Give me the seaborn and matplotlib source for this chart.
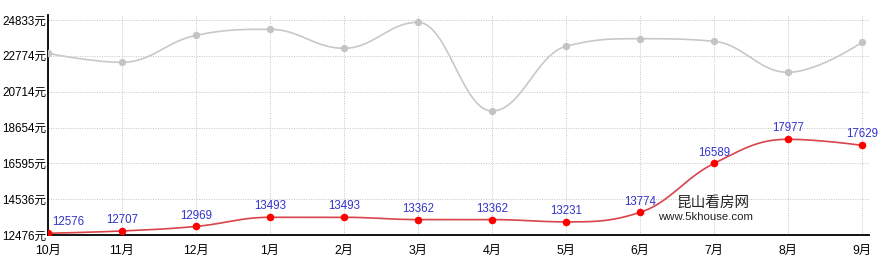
import numpy as np
import pandas as pd
import matplotlib
matplotlib.use("Agg")
import matplotlib.pyplot as plt
import seaborn as sns

months = ["10月", "11月", "12月", "1月", "2月", "3月", "4月", "5月", "6月", "7月", "8月", "9月"]
area_price = [22918, 22400, 23953, 24298, 23206, 24700, 19600, 23321, 23758, 23608, 21826, 23550]
city_price = [12576, 12707, 12969, 13493, 13493, 13362, 13362, 13231, 13774, 16589, 17977, 17629]
y_ticks = [12476, 14536, 16595, 18654, 20714, 22774, 24833]


def spline(xs, ys, n=30, smoothing=1.5):
    """Highcharts-style spline through the given points (rendering only)."""
    xs = np.asarray(xs, float)
    ys = np.asarray(ys, float)
    m = len(xs)
    lc = [(xs[i], ys[i]) for i in range(m)]
    rc = [(xs[i], ys[i]) for i in range(m)]
    d = smoothing + 1
    for i in range(1, m - 1):
        px, py = xs[i], ys[i]
        lx, ly = xs[i - 1], ys[i - 1]
        nx, ny = xs[i + 1], ys[i + 1]
        lcx = (smoothing * px + lx) / d
        lcy = (smoothing * py + ly) / d
        rcx = (smoothing * px + nx) / d
        rcy = (smoothing * py + ny) / d
        corr = ((rcy - lcy) * (rcx - px)) / (rcx - lcx) + py - rcy
        lcy += corr
        rcy += corr
        if lcy > ly and lcy > py:
            lcy = max(ly, py); rcy = 2 * py - lcy
        elif lcy < ly and lcy < py:
            lcy = min(ly, py); rcy = 2 * py - lcy
        if rcy > ny and rcy > py:
            rcy = max(ny, py); lcy = 2 * py - rcy
        elif rcy < ny and rcy < py:
            rcy = min(ny, py); lcy = 2 * py - rcy
        lc[i] = (lcx, lcy)
        rc[i] = (rcx, rcy)
    outx, outy = [], []
    t = np.linspace(0, 1, n)
    for i in range(m - 1):
        p0 = np.array([xs[i], ys[i]])
        p1 = np.array(rc[i])
        p2 = np.array(lc[i + 1])
        p3 = np.array([xs[i + 1], ys[i + 1]])
        b = ((1 - t) ** 3)[:, None] * p0 + (3 * (1 - t) ** 2 * t)[:, None] * p1 \
            + (3 * (1 - t) * t ** 2)[:, None] * p2 + (t ** 3)[:, None] * p3
        outx.extend(b[:, 0]); outy.extend(b[:, 1])
    return np.array(outx), np.array(outy)


sns.set_theme(style="white")
plt.rcParams["font.family"] = ["Liberation Sans", "Noto Sans CJK SC", "DejaVu Sans"]

fig = plt.figure(figsize=(8.92, 2.70), dpi=100)
ax = fig.add_axes([48 / 892, 35 / 270, 821 / 892, 220 / 270])

xi = np.arange(len(months))
df = pd.DataFrame({"x": xi, "area": area_price, "city": city_price})

gx, gy = spline(xi, area_price)
rx, ry = spline(xi, city_price)
sns.lineplot(x=gx, y=gy, ax=ax, color="#c8c8c8", linewidth=1.2, sort=False, zorder=3)
sns.lineplot(x=rx, y=ry, ax=ax, color="#d9434a", linewidth=1.2, sort=False, zorder=4)
sns.scatterplot(data=df, x="x", y="area", ax=ax, color="#c4c4c4", s=28, linewidth=0, zorder=5)
sns.scatterplot(data=df, x="x", y="city", ax=ax, color="#ff0000", s=30, linewidth=0, zorder=6)

for i, v in enumerate(city_price):
    if i == 0:
        ax.annotate(str(v), (i, v), xytext=(3, 3.5), textcoords="offset points",
                    ha="left", va="bottom", fontsize=8.3, color="#3333cc", zorder=7)
    else:
        ax.annotate(str(v), (i, v), xytext=(0, 3.5), textcoords="offset points",
                    ha="center", va="bottom", fontsize=8.3, color="#3333cc", zorder=7,
                    annotation_clip=False)

ax.set_xlim(0, 11.095)
ax.set_ylim(12476, 25120)
ax.set_xticks(xi)
ax.set_xticklabels(months)
ax.set_yticks(y_ticks)
ax.set_yticklabels([f"{v}元" for v in y_ticks])
ax.tick_params(axis="both", length=0, colors="#000000")
ax.tick_params(axis="x", pad=7, labelsize=8.8)
ax.tick_params(axis="y", pad=1, labelsize=8.4)
ax.set_xlabel("")
ax.set_ylabel("")

ax.grid(True, color="#c4c4c4", linestyle=(0, (1, 1.5)), linewidth=0.7)
ax.set_axisbelow(True)
for s in ["top", "right"]:
    ax.spines[s].set_visible(False)
for s in ["left", "bottom"]:
    ax.spines[s].set_color("#000000")
    ax.spines[s].set_linewidth(1.3)
ax.set_facecolor("white")

fig.text(676 / 892, 1 - 203 / 270, "昆山看房网", fontsize=10.5, color="#222222",
         family=["Noto Sans CJK SC"], ha="left", va="center")
fig.text(658 / 892, 1 - 217 / 270, "www.5khouse.com", fontsize=8.2, color="#222222",
         ha="left", va="center")

fig.savefig("out.png", dpi=100, facecolor="white")
